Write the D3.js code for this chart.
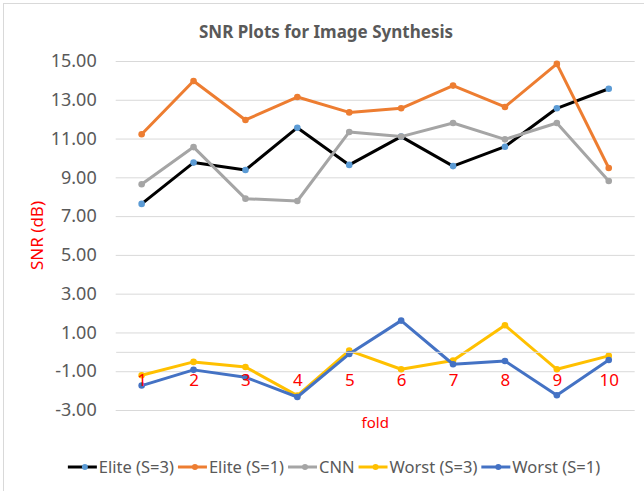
<!DOCTYPE html>
<html>
<head>
<meta charset="utf-8">
<script src="https://cdn.jsdelivr.net/npm/d3@7"></script>
<style>
  body { margin: 0; background: #fff; }
  svg { display: block; font-family: "Noto Sans", "Open Sans", sans-serif; }
</style>
</head>
<body>
<div id="chart"></div>
<script>
// data
var folds = [1, 2, 3, 4, 5, 6, 7, 8, 9, 10];
var eliteS3 = [7.63, 9.76, 9.38, 11.56, 9.64, 11.10, 9.58, 10.58, 12.56, 13.57];
var eliteS1 = [11.22, 13.97, 11.96, 13.14, 12.35, 12.56, 13.73, 12.63, 14.85, 9.48];
var cnn = [8.64, 10.56, 7.90, 7.78, 11.34, 11.10, 11.80, 10.96, 11.80, 8.81];
var worstS3 = [-1.21, -0.52, -0.78, -2.26, 0.06, -0.90, -0.45, 1.37, -0.90, -0.21];
var worstS1 = [-1.74, -0.93, -1.31, -2.33, -0.11, 1.61, -0.64, -0.47, -2.24, -0.42];
var yTicks = [-3, -1, 1, 3, 5, 7, 9, 11, 13, 15];

var series = [
  {name: "Elite (S=3)", values: eliteS3, line: "#000000", marker: "#5b9bd5"},
  {name: "Elite (S=1)", values: eliteS1, line: "#ed7d31", marker: "#ed7d31"},
  {name: "CNN", values: cnn, line: "#a5a5a5", marker: "#a5a5a5"},
  {name: "Worst (S=3)", values: worstS3, line: "#ffc000", marker: "#ffc000"},
  {name: "Worst (S=1)", values: worstS1, line: "#4472c4", marker: "#4472c4"}
];

var W = 644, H = 491;
var margin = {top: 61, right: 9.3, bottom: 81, left: 115.7},
    width = W - margin.left - margin.right,
    height = H - margin.top - margin.bottom;

var svg = d3.select("#chart").append("svg")
    .attr("width", W)
    .attr("height", H);

// chart border (only top/left visible in the crop)
svg.append("rect")
    .attr("x", 3.5).attr("y", 3.5)
    .attr("width", 700).attr("height", 600)
    .attr("fill", "none")
    .attr("stroke", "#d9d9d9");

svg.append("text")
    .attr("x", 326).attr("y", 38)
    .attr("text-anchor", "middle")
    .attr("font-size", 17).attr("font-weight", "bold")
    .attr("fill", "#595959")
    .text("SNR Plots for Image Synthesis");

var g = svg.append("g")
    .attr("transform", "translate(" + margin.left + "," + margin.top + ")");

var x = d3.scalePoint()
    .domain(folds)
    .range([0, width])
    .padding(0.5);
var y = d3.scaleLinear()
    .domain([-3, 15])
    .range([height, 0]);

// y axis + gridlines
var yAxis = g.append("g")
    .call(d3.axisLeft(y)
        .tickValues(yTicks)
        .tickSize(-width)
        .tickPadding(19)
        .tickFormat(function(d) { return d.toFixed(2); }));
yAxis.select(".domain").remove();
yAxis.selectAll("line").attr("stroke", "#d9d9d9");
yAxis.selectAll("text")
    .attr("font-size", 18)
    .attr("fill", "#595959")
    .style("font-family", "Noto Sans");

// x axis line at 0
var xAxis = g.append("g")
    .attr("transform", "translate(0," + y(0) + ")")
    .call(d3.axisBottom(x).tickSize(0).tickPadding(22));
xAxis.select(".domain").attr("stroke", "#d9d9d9");
xAxis.selectAll("text")
    .attr("font-size", 17)
    .attr("fill", "#ff0000")
    .style("font-family", "Noto Sans");

// axis titles
g.append("text")
    .attr("x", width / 2).attr("y", 428 - margin.top)
    .attr("text-anchor", "middle")
    .attr("font-size", 15)
    .attr("fill", "#ff0000")
    .text("fold");

svg.append("text")
    .attr("transform", "translate(43,235.5) rotate(-90)")
    .attr("text-anchor", "middle")
    .attr("font-size", 17)
    .attr("fill", "#ff0000")
    .text("SNR (dB)");

var line = d3.line()
    .x(function(d, i) { return x(folds[i]); })
    .y(function(d) { return y(d); });

series.forEach(function(s) {
  g.append("path")
      .datum(s.values)
      .attr("fill", "none")
      .attr("stroke", s.line)
      .attr("stroke-width", 3)
      .attr("stroke-linejoin", "round")
      .attr("d", line);
  g.selectAll(null)
      .data(s.values)
      .enter()
      .append("circle")
      .attr("cx", function(d, i) { return x(folds[i]); })
      .attr("cy", function(d) { return y(d); })
      .attr("r", 3.3)
      .attr("fill", s.marker);
});

// fold labels sit on top of the lines
xAxis.raise();

// legend
var legend = svg.append("g");
var lx = 0;
series.forEach(function(s) {
  var item = legend.append("g").attr("transform", "translate(" + lx + ",0)");
  item.append("line")
      .attr("x1", 0).attr("x2", 29)
      .attr("y1", 0).attr("y2", 0)
      .attr("stroke", s.line).attr("stroke-width", 3);
  item.append("circle")
      .attr("cx", 17).attr("cy", 0).attr("r", 3)
      .attr("fill", s.marker);
  var t = item.append("text")
      .attr("x", 31).attr("y", 6)
      .attr("font-size", 16.5)
      .attr("fill", "#595959")
      .text(s.name);
  lx += 31 + t.node().getComputedTextLength() + 4;
});
var legW = lx - 4;
legend.attr("transform", "translate(" + (334 - legW / 2) + ",467)");
</script>
</body>
</html>
